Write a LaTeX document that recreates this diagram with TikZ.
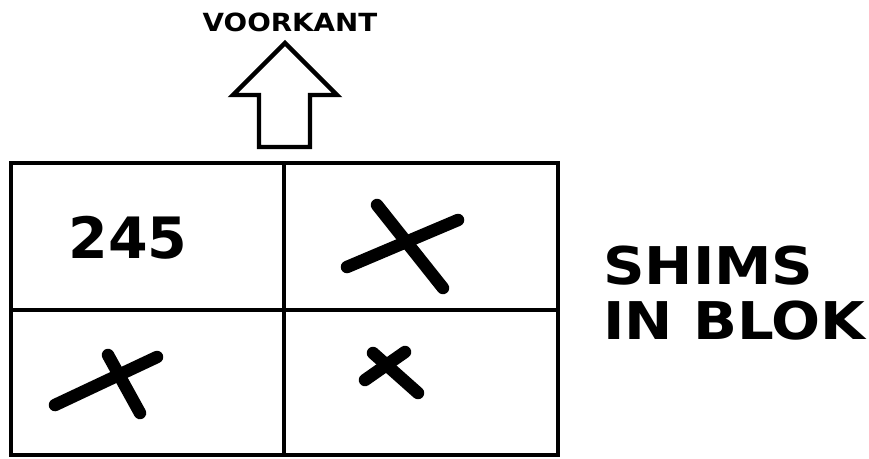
\documentclass[tikz,border=0pt]{standalone}
\usepackage{fontspec}
\usepackage{graphicx}
\setmainfont{DejaVu Sans}
\newcommand{\wide}[1]{\scalebox{1.11}[1]{#1}}
\begin{document}
\begin{tikzpicture}[
  x=1pt, y=-1pt,
  grid/.style={line width=4.4pt},
  stroke/.style={line width=12.5pt, line cap=round},
  label/.style={inner sep=0pt, font=\bfseries}
]
\useasboundingbox (0,0) rectangle (869,458);
% block with four cells
\draw[grid] (11,163) rectangle (558,455);
\draw[grid] (284,163) -- (284,455);
\draw[grid] (11,310) -- (558,310);
% front arrow
\draw[grid, line join=miter]
  (285,43) -- (337,95) -- (310,95) -- (310,147) -- (259,147)
  -- (259,95) -- (233,95) -- cycle;
\node[label, font=\bfseries\fontsize{25}{25}\selectfont] (front) at (290,22) {\wide{VOORKANT}};
\node[label, font=\bfseries\fontsize{57}{57}\selectfont] (shim) at (128,238) {245};
% crosses
\draw[stroke] (347,267) -- (458,220);
\draw[stroke] (377,205) -- (443,288);
\draw[stroke] (55,405) -- (157,357);
\draw[stroke] (108,355) -- (140,413);
\draw[stroke] (365,380) -- (405,352);
\draw[stroke] (373,353) -- (418,393);
\node[label, font=\bfseries\fontsize{52}{52}\selectfont, anchor=west] (top) at (603,266) {\wide{SHIMS}};
\node[label, font=\bfseries\fontsize{52}{52}\selectfont, anchor=west] (bottom) at (603,321) {\wide{IN BLOK}};
\end{tikzpicture}
\end{document}
